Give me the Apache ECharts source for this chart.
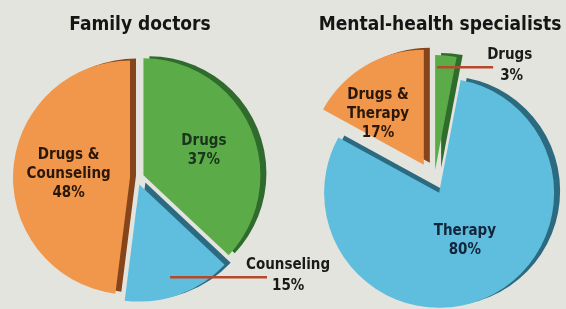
<!DOCTYPE html>
<html>
<head>
<meta charset="utf-8">
<script src="https://cdn.jsdelivr.net/npm/echarts@6/dist/echarts.min.js"></script>
<style>
  html, body { margin: 0; padding: 0; background: #e4e4de; }
  #chart { width: 566px; height: 309px; }
</style>
</head>
<body>
<div id="chart"></div>
<script>
// Chart data
const titles = ['Family doctors', 'Mental-health specialists'];
const doctorNames = ['Drugs', 'Counseling', 'Drugs &\nCounseling'];
const doctorValues = [37, 15, 48];
const specialistNames = ['Drugs', 'Therapy', 'Drugs &\nTherapy'];
const specialistValues = [3, 80, 17];

const fontFamily = "'DejaVu Sans Condensed', 'Liberation Sans Narrow', sans-serif";
const leaderColor = '#b6492b';

// face colour, rim colour, text colour for each slice
const sliceColors = [
    { face: '#5bac49', rim: '#2f6b2c', text: '#1b321b' },
    { face: '#5fbddd', rim: '#2c6a80', text: '#13253a' },
    { face: '#f1974b', rim: '#86441a', text: '#2b1709' }
];

// Label with a flat leader line in front: name above, line, value beside the line end
// gapName / lineWidth / gapValue are widths in px
function leaderLabel (gapName, lineWidth, gapValue) {
    return {
        position: 'outside',
        color: '#1a1a1a',
        overflow: 'none',
        formatter: function (p) {
            return '{g1|}{t|' + p.name + '}\n{line|}\n{g2|}{v|' + p.percent + '%}';
        },
        rich: {
            g1: { width: gapName, height: 1, lineHeight: 1 },
            t: { lineHeight: 19 },
            line: { width: lineWidth, height: 2.5, lineHeight: 6, backgroundColor: leaderColor },
            g2: { width: gapValue, height: 1, lineHeight: 1 },
            v: { lineHeight: 12 }
        }
    };
}

// visible: indexes of slices drawn by this series (others stay transparent)
function buildData (names, values, visible, leader) {
    return names.map(function (name, i) {
        const c = sliceColors[i];
        if (visible.indexOf(i) < 0) {
            return {
                name: name,
                value: values[i],
                itemStyle: { color: 'rgba(0,0,0,0)' },
                label: { show: false }
            };
        }
        return {
            name: name,
            value: values[i],
            selected: true,
            itemStyle: {
                color: c.face,
                shadowColor: c.rim,
                shadowBlur: 0,
                shadowOffsetX: 6,
                shadowOffsetY: -2
            },
            label: leader && leader.index === i ? leader.label : { position: 'inside', color: c.text }
        };
    });
}

// Move a leader label so its line starts at (rect.x + ox, rect.y + oy) of its slice
function placeLeader (params, ox, oy) {
    const s = params.rect;
    const r = params.labelRect;
    return {
        dx: s.x + ox - r.x,
        dy: s.y + oy - 3.5 - (r.y + r.height / 2)
    };
}

const labelStyle = {
    formatter: '{b}\n{d}%',
    fontFamily: fontFamily,
    fontWeight: 'bold',
    fontSize: 15,
    lineHeight: 19,
    align: 'center'
};
const titleStyle = { fontFamily: fontFamily, fontWeight: 'bold', fontSize: 19, color: '#151515' };

const chart = echarts.init(document.getElementById('chart'));
let option = {
    backgroundColor: '#e4e4de',
    animation: false,
    title: [
        { text: titles[0], left: 135, top: 11, textAlign: 'center', textStyle: titleStyle },
        { text: titles[1], left: 435, top: 11, textAlign: 'center', textStyle: titleStyle }
    ],
    series: [
        {
            type: 'pie',
            silent: true,
            center: [137, 178],
            radius: 117,
            startAngle: 90,
            selectedMode: 'multiple',
            selectedOffset: 7,
            label: labelStyle,
            labelLine: { show: false },
            labelLayout: function (params) {
                if (params.dataIndex === 1) {
                    return placeLeader(params, 45.3, 93.4);
                }
                if (params.dataIndex === 0) {
                    return { dx: 4, dy: 0 };
                }
                return {};
            },
            data: buildData(doctorNames, doctorValues, [0, 1, 2],
                { index: 1, label: leaderLabel(76, 97, 102) })
        },
        {
            // drugs and therapy slices
            type: 'pie',
            silent: true,
            center: [434, 182],
            radius: 115,
            startAngle: 90,
            selectedMode: 'multiple',
            selectedOffset: 12,
            label: labelStyle,
            labelLine: { show: false },
            labelLayout: function (params) {
                if (params.dataIndex === 0) {
                    return placeLeader(params, 2, 13);
                }
                return { dx: 0, dy: -7 };
            },
            data: buildData(specialistNames, specialistValues, [0, 1],
                { index: 0, label: leaderLabel(50, 56, 63) })
        },
        {
            // drugs & therapy slice, pulled further out
            type: 'pie',
            silent: true,
            center: [434, 182],
            radius: 115,
            startAngle: 90,
            selectedMode: 'multiple',
            selectedOffset: 20,
            label: labelStyle,
            labelLine: { show: false },
            labelLayout: function (params) {
                return { dx: -15, dy: 1 };
            },
            data: buildData(specialistNames, specialistValues, [2])
        }
    ]
};
chart.setOption(option);
</script>
</body>
</html>
